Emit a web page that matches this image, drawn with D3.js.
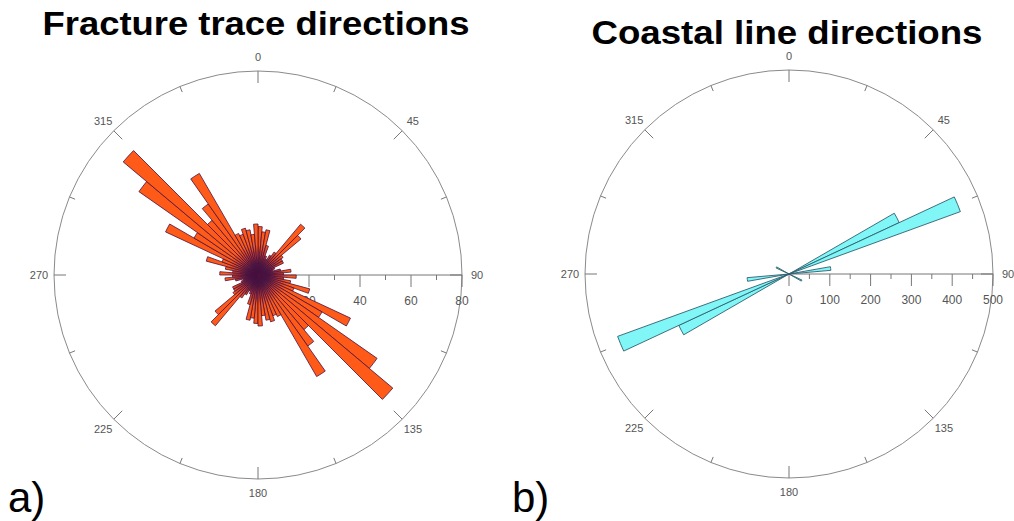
<!DOCTYPE html>
<html>
<head>
<meta charset="utf-8">
<script src="https://cdn.jsdelivr.net/npm/d3@7"></script>
<style>
  body { margin: 0; background: #fff; }
  svg { display: block; }
</style>
</head>
<body>
<div id="chart"></div>
<script>
// 5 degree bins over 0..180, plotted both ways (axial data)
const binStarts = d3.range(0, 180, 5);
const fractureCounts = [19, 17, 18, 12, 8, 7, 9, 11, 26, 22, 12, 11, 11, 7, 6, 9, 13, 10,
                        15, 10, 13, 21, 15, 40, 29, 57, 69, 28, 34, 46, 18, 17, 19, 18, 16, 20];
const coastBins = [60, 65, 80, 115];
const coastCounts = [298, 447, 103, 35];

const compassLabels = [0, 45, 90, 135, 180, 225, 270, 315];
const fractureTicks = [20, 40, 60, 80];
const coastTicks = [0, 100, 200, 300, 400, 500];

const width = 1014, height = 521;
const R = 204;

const svg = d3.select("#chart").append("svg")
  .attr("width", width)
  .attr("height", height)
  .style("font-family", "Liberation Sans, Arial, sans-serif");

const defs = svg.append("defs");
const grad = defs.append("radialGradient")
  .attr("id", "centreDark")
  .attr("gradientUnits", "userSpaceOnUse")
  .attr("cx", 0).attr("cy", 0).attr("r", R);
grad.append("stop").attr("offset", 0).attr("stop-color", "#0c0a28");
grad.append("stop").attr("offset", 0.04).attr("stop-color", "#340e3a");
grad.append("stop").attr("offset", 0.09).attr("stop-color", "#b8342b");
grad.append("stop").attr("offset", 0.15).attr("stop-color", "#ff5a17");
grad.append("stop").attr("offset", 1).attr("stop-color", "#ff5a17");

function drawRose(cx, cy, opts) {
  const g = svg.append("g").attr("transform", `translate(${cx},${cy})`);
  const r = d3.scaleLinear().domain([0, opts.max]).range([0, R]);
  const rad = a => a * Math.PI / 180;

  // compass ring
  g.append("circle").attr("r", R)
    .attr("fill", "none").attr("stroke", "#8a8a8a").attr("stroke-width", 1);

  const compass = d3.range(0, 360, 22.5);
  g.selectAll(".ctick").data(compass).enter().append("line")
    .attr("x1", d => Math.sin(rad(d)) * R)
    .attr("y1", d => -Math.cos(rad(d)) * R)
    .attr("x2", d => Math.sin(rad(d)) * (R - (d % 45 === 0 ? 12 : 6)))
    .attr("y2", d => -Math.cos(rad(d)) * (R - (d % 45 === 0 ? 12 : 6)))
    .attr("stroke", "#777").attr("stroke-width", 1);

  g.selectAll(".clabel").data(compassLabels).enter().append("text")
    .attr("x", d => Math.sin(rad(d)) * (R + 15))
    .attr("y", d => -Math.cos(rad(d)) * (R + 14))
    .attr("text-anchor", "middle")
    .attr("dominant-baseline", "central")
    .attr("font-size", 11)
    .attr("fill", "#555")
    .text(d => d);

  // radial axis towards 90
  g.append("line").attr("x1", 0).attr("y1", 0).attr("x2", R).attr("y2", 0)
    .attr("stroke", "#777").attr("stroke-width", 1);
  const allTicks = d3.range(0, opts.max + 0.001, opts.minor);
  g.selectAll(".rtick").data(allTicks).enter().append("line")
    .attr("x1", d => r(d)).attr("x2", d => r(d))
    .attr("y1", 0)
    .attr("y2", d => (Math.round(d / opts.minor) % 2 === 0) ? 12 : 5)
    .attr("stroke", "#777").attr("stroke-width", 1);
  g.selectAll(".rlabel").data(opts.labels).enter().append("text")
    .attr("x", d => r(d)).attr("y", 26)
    .attr("text-anchor", "middle")
    .attr("dominant-baseline", "central")
    .attr("font-size", 12)
    .attr("fill", "#555")
    .text(d => d);

  // petals, both directions
  const petals = [];
  opts.bins.forEach((b, i) => {
    petals.push({ a: b, v: opts.values[i] });
    petals.push({ a: b + 180, v: opts.values[i] });
  });
  const arc = d3.arc()
    .innerRadius(0)
    .outerRadius(d => r(d.v))
    .startAngle(d => rad(d.a))
    .endAngle(d => rad(d.a + 5));
  g.selectAll(".petal").data(petals).enter().append("path")
    .attr("d", arc)
    .attr("fill", opts.fill)
    .attr("stroke", opts.stroke)
    .attr("stroke-width", opts.strokeWidth)
    .attr("stroke-linejoin", "miter");
}

drawRose(258, 275, {
  max: 80, minor: 10, labels: fractureTicks,
  bins: binStarts, values: fractureCounts,
  fill: "url(#centreDark)", stroke: "#4a1240", strokeWidth: 0.8
});

drawRose(789, 274, {
  max: 500, minor: 50, labels: coastTicks,
  bins: coastBins, values: coastCounts,
  fill: "#80f6f6", stroke: "#2f5f70", strokeWidth: 0.9
});

// titles
svg.append("text").attr("x", 256).attr("y", 35)
  .attr("text-anchor", "middle").attr("font-size", 34).attr("font-weight", "bold")
  .attr("textLength", 427).attr("lengthAdjust", "spacingAndGlyphs")
  .attr("fill", "#000").text("Fracture trace directions");
svg.append("text").attr("x", 787).attr("y", 44)
  .attr("text-anchor", "middle").attr("font-size", 34).attr("font-weight", "bold")
  .attr("textLength", 391).attr("lengthAdjust", "spacingAndGlyphs")
  .attr("fill", "#000").text("Coastal line directions");

svg.append("text").attr("x", 8).attr("y", 512)
  .attr("font-size", 42).attr("fill", "#000").text("a)");
svg.append("text").attr("x", 512).attr("y", 512)
  .attr("font-size", 42).attr("fill", "#000").text("b)");
</script>
</body>
</html>
